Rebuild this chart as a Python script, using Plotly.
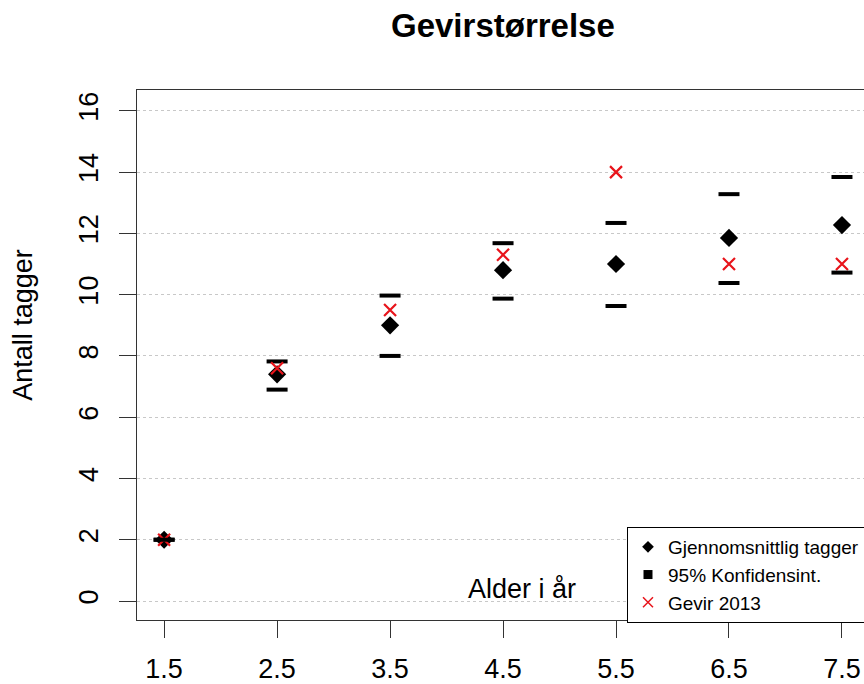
import plotly.graph_objects as go

# ---- data ----
ages = [1.5, 2.5, 3.5, 4.5, 5.5, 6.5, 7.5]
age_labels = ["1.5", "2.5", "3.5", "4.5", "5.5", "6.5", "7.5"]
mean_tagger = [2.0, 7.4, 9.0, 10.8, 11.0, 11.85, 12.27]
ci_lower = [2.0, 6.9, 8.0, 9.87, 9.63, 10.38, 10.72]
ci_upper = [2.0, 7.82, 9.97, 11.68, 12.34, 13.28, 13.84]
gevir_2013 = [2.0, 7.6, 9.5, 11.3, 14.0, 11.0, 11.0]
y_ticks = [0, 2, 4, 6, 8, 10, 12, 14, 16]

FONT = "Liberation Sans, Arial, sans-serif"
RED = "#e8141b"

fig = go.Figure()

# data traces
fig.add_trace(go.Scatter(x=ages, y=mean_tagger, mode="markers", showlegend=False,
                         marker=dict(symbol="diamond", size=14, color="black")))
fig.add_trace(go.Scatter(x=ages, y=ci_upper, mode="markers", showlegend=False,
                         marker=dict(symbol="line-ew", size=15,
                                     line=dict(color="black", width=4))))
fig.add_trace(go.Scatter(x=ages, y=gevir_2013, mode="markers", showlegend=False,
                         marker=dict(symbol="x-thin", size=12,
                                     line=dict(color=RED, width=2.2))))
fig.add_trace(go.Scatter(x=ages, y=ci_lower, mode="markers", showlegend=False,
                         marker=dict(symbol="line-ew", size=15,
                                     line=dict(color="black", width=4))))

# legend entries
fig.add_trace(go.Scatter(x=[None], y=[None], mode="markers", name="Gjennomsnittlig tagger",
                         marker=dict(symbol="diamond", size=9, color="black")))
fig.add_trace(go.Scatter(x=[None], y=[None], mode="markers", name="95% Konfidensint.",
                         marker=dict(symbol="square", size=9, color="black")))
fig.add_trace(go.Scatter(x=[None], y=[None], mode="markers", name="Gevir 2013",
                         marker=dict(symbol="x-thin", size=10,
                                     line=dict(color=RED, width=1.5))))

fig.update_layout(
    width=864, height=684,
    margin=dict(l=137, r=0, t=90, b=64, autoexpand=False),
    paper_bgcolor="white", plot_bgcolor="white",
    font=dict(family=FONT, color="black", size=27),
    showlegend=True,
    legend=dict(x=0.674, y=0.1755, xanchor="left", yanchor="top",
                bordercolor="black", borderwidth=1, bgcolor="white",
                font=dict(size=19, family=FONT, color="black"),
                tracegroupgap=0, itemwidth=30),
    xaxis=dict(range=[1.26, 7.695], tickvals=ages, ticktext=age_labels,
               ticks="outside", ticklen=17, tickwidth=1, tickcolor="#333",
               showline=True, linecolor="#333", linewidth=1, mirror=True,
               showgrid=False, zeroline=False,
               tickfont=dict(size=27, family=FONT, color="black"),
               ticklabelstandoff=8),
    yaxis=dict(range=[-0.62, 16.68], tickvals=y_ticks,
               ticks="outside", ticklen=17, tickwidth=1, tickcolor="#333",
               showline=True, linecolor="#333", linewidth=1, mirror=False,
               showgrid=True, gridcolor="#c8c8c8", griddash="dot", gridwidth=1,
               zeroline=False, tickangle=-90,
               tickfont=dict(size=27, family=FONT, color="black"),
               ticklabelstandoff=10),
)

fig.add_annotation(text="<b>Gevirstørrelse</b>", xref="paper", yref="paper",
                   x=0.503, y=1.1226, xanchor="center", yanchor="middle",
                   showarrow=False, font=dict(size=33, family=FONT, color="black"))
fig.add_annotation(text="Antall tagger", xref="paper", yref="paper",
                   x=-0.157, y=0.5566, xanchor="center", yanchor="middle",
                   textangle=-90, showarrow=False,
                   font=dict(size=27, family=FONT, color="black"))
fig.add_annotation(text="Alder i år", xref="paper", yref="paper",
                   x=0.5296, y=0.0585, xanchor="center", yanchor="middle",
                   showarrow=False, font=dict(size=27, family=FONT, color="black"))

fig.write_html("out.html")
